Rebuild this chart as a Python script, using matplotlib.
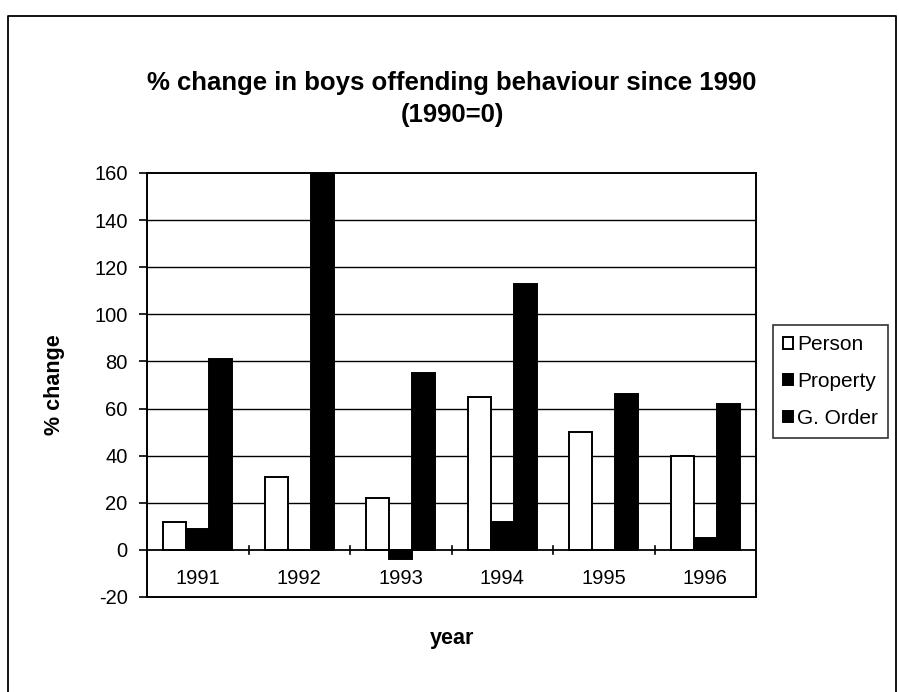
import numpy as np
import matplotlib.pyplot as plt
from matplotlib.lines import Line2D

plt.rcParams['font.family'] = ['Liberation Sans', 'DejaVu Sans']
plt.rcParams['axes.unicode_minus'] = False

# % change since 1990 for each offence group
years = ['1991', '1992', '1993', '1994', '1995', '1996']
person = [12, 31, 22, 65, 50, 40]
property_ = [9, 0, -4, 12, 0, 5]
g_order = [81, 160, 75, 113, 66, 62]

series = [('Person', person, 'white'),
          ('Property', property_, 'black'),
          ('G. Order', g_order, 'black')]

fig = plt.figure(figsize=(8.99, 6.92), dpi=100)
ax = fig.add_axes([147/899, 1-597/692, 609/899, 424/692])

x = np.arange(len(years))
w = 0.227
for i, (name, vals, col) in enumerate(series):
    ax.bar(x + (i-1)*w, vals, w, color=col, edgecolor='black', linewidth=1.4,
           label=name, zorder=3)

ax.set_xlim(-0.5, len(years)-0.5)
ax.set_ylim(-20, 160)
ax.set_yticks(np.arange(-20, 161, 20))
for yv in range(20, 160, 20):
    ax.axhline(yv, color='black', linewidth=1.0, zorder=1)
ax.axhline(0, color='black', linewidth=1.3, zorder=4)

# category labels and boundary ticks sit on the zero line
ax.set_xticks([])
for b in np.arange(0.5, len(years)-0.5, 1):
    ax.plot([b, b], [-1.6, 1.6], color='black', linewidth=1.2, zorder=4, clip_on=False)
for xi, yr in zip(x, years):
    ax.text(xi, -12, yr, ha='center', va='center', fontsize=14.5)

for s in ax.spines.values():
    s.set_linewidth(1.4)
ax.tick_params(axis='y', labelsize=14.5, length=6, width=1.2, direction='out', pad=8)

ax.set_ylabel('% change', fontsize=15.5, fontweight='bold')
ax.yaxis.set_label_coords(-0.135, 0.5)
ax.set_xlabel('year', fontsize=15.5, fontweight='bold')
ax.xaxis.set_label_coords(0.5, -0.073)

fig.text(452/899, 1-83/692, '% change in boys offending behaviour since 1990',
         ha='center', va='center', fontsize=18.5, fontweight='bold')
fig.text(452/899, 1-115/692, '(1990=0)', ha='center', va='center',
         fontsize=18.5, fontweight='bold')

leg = fig.legend(loc='upper left', bbox_to_anchor=(773/899, 1-325/692),
                 fontsize=15, frameon=True, fancybox=False, edgecolor='black',
                 handlelength=0.45, handleheight=0.45, handletextpad=0.2,
                 labelspacing=0.85, borderpad=0.5, borderaxespad=0)
leg.get_frame().set_linewidth(1.2)

# outer chart-area border
fig.add_artist(Line2D([8/899, 8/899, 896/899, 896/899],
                      [0, 1-16/692, 1-16/692, 0],
                      transform=fig.transFigure, color='black', linewidth=1.3))

fig.savefig('out.png', dpi=100)
